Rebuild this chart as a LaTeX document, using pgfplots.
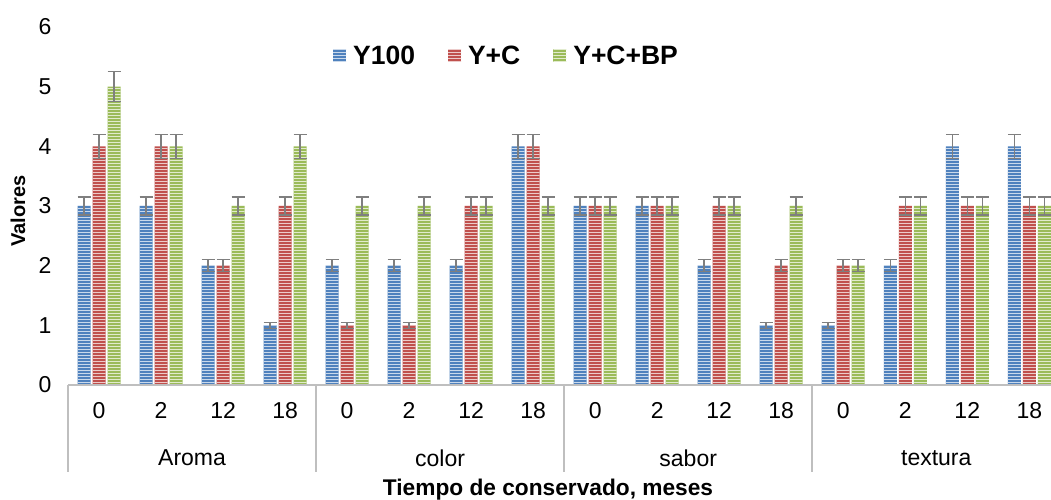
\documentclass[border=0pt]{standalone}
\usepackage{fontspec}
\setmainfont{Liberation Sans}
\usepackage{pgfplots}
\pgfplotsset{compat=1.18}
\usetikzlibrary{patterns}
\definecolor{cA}{HTML}{4F81BD}
\definecolor{cB}{HTML}{C0504D}
\definecolor{cC}{HTML}{9BBB59}
\definecolor{axgray}{HTML}{BFBFBF}
\definecolor{errgray}{HTML}{7F7F7F}
\pgfplotsset{
  errs/.style={
    /pgfplots/error bars/y dir=both,
    /pgfplots/error bars/y fixed relative=0.05,
    /pgfplots/error bars/error bar style={errgray, line width=1.5pt},
    /pgfplots/error bars/error mark options={errgray, line width=1.5pt, mark size=6.5pt, rotate=90},
  },
  sq/.style={legend image code/.code={\fill[##1] (0pt,-6.5pt) rectangle (13pt,6.5pt);}},
}
\begin{document}
\begin{tikzpicture}
\begin{axis}[
    name=ax,
    scale only axis,
    width=983pt, height=358pt,
    ybar=2pt, bar width=13pt,
    xmin=-0.5, xmax=15.35,
    ymin=0, ymax=6,
    ytick={0,...,6},
    xtick={0,...,15},
    xticklabels={0,2,12,18,0,2,12,18,0,2,12,18,0,2,12,18},
    axis line style={draw=none},
    major tick length=0pt,
    tick label style={font=\fontsize{23}{27}\selectfont},
    /pgf/number format/assume math mode=true,
    yticklabel style={xshift=-13pt},
    xticklabel style={yshift=-14pt},
    legend columns=3,
    legend style={at={(0.2665,0.92)}, anchor=west, draw=none, fill=none,
        font=\bfseries\fontsize{26.5}{30}\selectfont,
        /tikz/every odd column/.append style={column sep=5pt},
        /tikz/every even column/.append style={column sep=31pt}},
  ]
  \addplot[fill=cA, draw=none, postaction={pattern=horizontal lines, pattern color=cA!30!white}, sq, errs]
    coordinates {(0,3)(1,3)(2,2)(3,1)(4,2)(5,2)(6,2)(7,4)(8,3)(9,3)(10,2)(11,1)(12,1)(13,2)(14,4)(15,4)};
  \addlegendentry{Y100}
  \addplot[fill=cB, draw=none, postaction={pattern=horizontal lines, pattern color=cB!30!white}, sq, errs]
    coordinates {(0,4)(1,4)(2,2)(3,3)(4,1)(5,1)(6,3)(7,4)(8,3)(9,3)(10,3)(11,2)(12,2)(13,3)(14,3)(15,3)};
  \addlegendentry{Y+C}
  \addplot[fill=cC, draw=none, postaction={pattern=horizontal lines, pattern color=cC!30!white}, sq, errs]
    coordinates {(0,5)(1,4)(2,3)(3,4)(4,3)(5,3)(6,3)(7,3)(8,3)(9,3)(10,3)(11,3)(12,2)(13,3)(14,3)(15,3)};
  \addlegendentry{Y+C+BP}

  \coordinate (s0) at (axis cs:-0.5,0);
  \coordinate (s1) at (axis cs:3.5,0);
  \coordinate (s2) at (axis cs:7.5,0);
  \coordinate (s3) at (axis cs:11.5,0);
  \coordinate (gA) at (axis cs:1.5,0);
  \coordinate (gB) at (axis cs:5.5,0);
  \coordinate (gC) at (axis cs:9.5,0);
  \coordinate (gD) at (axis cs:13.5,0);
\end{axis}
\draw[axgray, line width=2.5pt] (ax.south west) -- (ax.south east);
\foreach \s in {s0,s1,s2,s3}
  \draw[axgray, line width=2.5pt] (\s) -- ++(0,-87pt);
\foreach \g/\t in {gA/Aroma,gB/color,gC/sabor,gD/textura}
  \node[font=\fontsize{23}{27}\selectfont] at ([yshift=-73pt]\g) {\t};
\node[font=\bfseries\fontsize{22.7}{27}\selectfont] at ([xshift=480pt,yshift=-105pt]ax.south west) {Tiempo de conservado, meses};
\node[font=\bfseries\fontsize{20}{24}\selectfont, rotate=90] at ([xshift=-50pt,yshift=174pt]ax.south west) {Valores};
\pgfresetboundingbox
\path ([xshift=-68pt,yshift=-115pt]ax.south west) rectangle ([yshift=27pt]ax.north east);
\end{tikzpicture}
\end{document}
